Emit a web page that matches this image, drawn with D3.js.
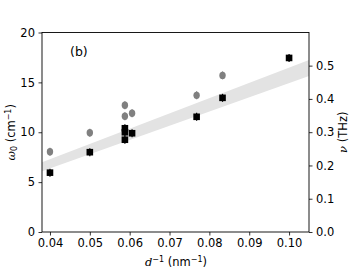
<!DOCTYPE html>
<html><head><meta charset="utf-8">
<script src="https://cdn.jsdelivr.net/npm/d3@7"></script>
<style>body{margin:0;background:#fff}svg{display:block}text{font-family:"DejaVu Sans",sans-serif}</style>
</head><body>
<script>
const dBlack = [0.04, 0.05, 0.0588, 0.0588, 0.0588, 0.0606, 0.0768, 0.0833, 0.1];
const wBlack = [5.95, 8.0, 10.4, 10.0, 9.25, 9.9, 11.55, 13.45, 17.45];
const errBlack = [0.4, 0.4, 0.4, 0.4, 0.4, 0.4, 0.4, 0.4, 0.4];
const dGray = [0.04, 0.05, 0.0588, 0.0588, 0.0606, 0.0768, 0.0833];
const wGray = [8.05, 9.95, 12.7, 11.6, 11.9, 13.7, 15.7];
const errGray = [0.4, 0.4, 0.4, 0.4, 0.4, 0.4, 0.4];
const fitX = [0.038, 0.105];
const fitLow = [6.1, 15.65];
const fitHigh = [7.0, 17.25];
const xTicks = [0.04, 0.05, 0.06, 0.07, 0.08, 0.09, 0.10];
const yTicks = [0, 5, 10, 15, 20];
const nuTicks = [0.0, 0.1, 0.2, 0.3, 0.4, 0.5];
const cmPerTHz = 33.356;

const W = 363, H = 272;
const L = 42, R = 309, T = 32.5, B = 232;
const svg = d3.select("body").append("svg").attr("width", W).attr("height", H);
const x = d3.scaleLinear().domain([0.038, 0.105]).range([L, R]);
const y = d3.scaleLinear().domain([0, 20]).range([B, T]);
const y2 = d3.scaleLinear().domain([0, 20 / cmPerTHz]).range([B, T]);

// band
const band = fitX.map((d, i) => ({d, lo: fitLow[i], hi: fitHigh[i]}));
svg.append("path").datum(band)
  .attr("d", d3.area().x(p => x(p.d)).y0(p => y(p.lo)).y1(p => y(p.hi)))
  .attr("fill", "#e3e3e3");

// gray points
const gray = dGray.map((d, i) => ({d, w: wGray[i], e: errGray[i]}));
const gg = svg.append("g");
gg.selectAll("line").data(gray).join("line")
  .attr("x1", p => x(p.d)).attr("x2", p => x(p.d))
  .attr("y1", p => y(p.w - p.e)).attr("y2", p => y(p.w + p.e))
  .attr("stroke", "#808080").attr("stroke-width", 1.2);
gg.selectAll("ellipse").data(gray).join("ellipse")
  .attr("cx", p => x(p.d)).attr("cy", p => y(p.w)).attr("rx", 3.2).attr("ry", 3.7)
  .attr("fill", "#808080");

// black points
const black = dBlack.map((d, i) => ({d, w: wBlack[i], e: errBlack[i]}));
const bg = svg.append("g");
bg.selectAll("line").data(black).join("line")
  .attr("x1", p => x(p.d)).attr("x2", p => x(p.d))
  .attr("y1", p => y(p.w - p.e)).attr("y2", p => y(p.w + p.e))
  .attr("stroke", "#000").attr("stroke-width", 1.2);
bg.selectAll("rect").data(black).join("rect")
  .attr("x", p => x(p.d) - 3.3).attr("y", p => y(p.w) - 3.3)
  .attr("width", 6.6).attr("height", 6.6).attr("fill", "#000");

// axes
const fs = 11.5;
const ax = svg.append("g").attr("transform", `translate(0,${B})`)
  .call(d3.axisBottom(x).tickValues(xTicks).tickFormat(d3.format(".2f")).tickSizeOuter(0).tickSize(3.5).tickPadding(3.5));
const ay = svg.append("g").attr("transform", `translate(${L},0)`)
  .call(d3.axisLeft(y).tickValues(yTicks).tickFormat(d3.format("d")).tickSizeOuter(0).tickSize(3.5).tickPadding(3.5));
const ay2 = svg.append("g").attr("transform", `translate(${R},0)`)
  .call(d3.axisRight(y2).tickValues(nuTicks).tickFormat(d3.format(".1f")).tickSizeOuter(0).tickSize(3.5).tickPadding(3.5));
[ax, ay, ay2].forEach(g => {
  g.selectAll("text").attr("font-size", fs).attr("fill", "#000").attr("font-family", "DejaVu Sans");
  g.selectAll("line").attr("stroke", "#000").attr("stroke-width", 0.8);
  g.select(".domain").remove();
});
// spines
svg.append("rect").attr("x", L).attr("y", T).attr("width", R - L).attr("height", B - T)
  .attr("fill", "none").attr("stroke", "#000").attr("stroke-width", 0.9);

// panel label
svg.append("text").attr("x", 70).attr("y", 56).attr("font-size", 12.5).text("(b)");

// x label
const xl = svg.append("text").attr("x", 176).attr("y", 266).attr("text-anchor", "middle").attr("font-size", fs);
xl.append("tspan").attr("font-family", "DejaVu Serif").attr("font-style", "italic").text("d");
xl.append("tspan").attr("font-size", 8).attr("dy", -4.5).text("−1");
xl.append("tspan").attr("dy", 4.5).text(" (nm");
xl.append("tspan").attr("font-size", 8).attr("dy", -4.5).text("−1");
xl.append("tspan").attr("dy", 4.5).text(")");

// left y label
const yl = svg.append("text").attr("transform", `translate(15,${(T + B) / 2}) rotate(-90)`)
  .attr("text-anchor", "middle").attr("font-size", fs);
yl.append("tspan").attr("font-family", "DejaVu Serif").attr("font-style", "italic").text("ω");
yl.append("tspan").attr("font-size", 8).attr("dy", 2).text("0");
yl.append("tspan").attr("dy", -2).text(" (cm");
yl.append("tspan").attr("font-size", 8).attr("dy", -4.5).text("−1");
yl.append("tspan").attr("dy", 4.5).text(")");

// right y label
const rl = svg.append("text").attr("transform", `translate(347,${(T + B) / 2}) rotate(-90)`)
  .attr("text-anchor", "middle").attr("font-size", fs);
rl.append("tspan").attr("font-family", "DejaVu Serif").attr("font-style", "italic").text("ν");
rl.append("tspan").text(" (THz)");
</script>
</body></html>
